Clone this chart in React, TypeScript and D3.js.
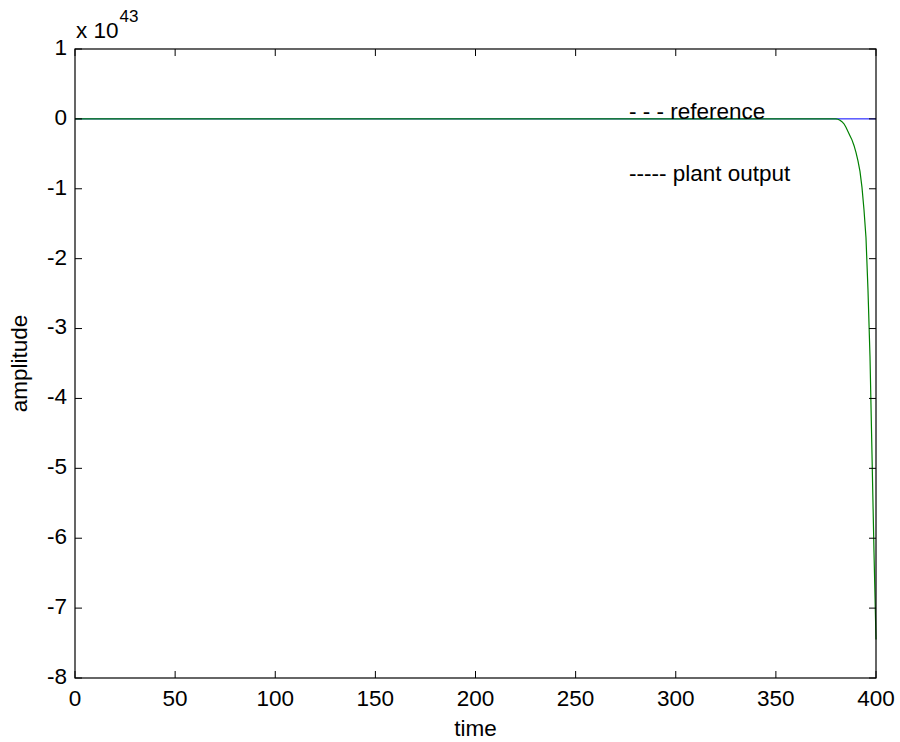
import React, { useEffect, useRef } from 'react';
import * as d3 from 'd3';

// time samples and values (units of 1e43)
const refTime = [0, 400];
const refValues = [0, 0];

const plantTime = [0, 380, 381, 382, 383, 384, 385, 386, 387, 388, 389, 390, 391, 392, 393, 394, 395, 396, 397, 398, 399, 400];
const plantValues = [0, 0, -0.005, -0.02, -0.04, -0.07, -0.12, -0.18, -0.24, -0.3, -0.38, -0.48, -0.6, -0.75, -0.98, -1.3, -1.7, -2.45, -3.4, -4.8, -6.2, -7.45];

const xTicks = [0, 50, 100, 150, 200, 250, 300, 350, 400];
const yTicks = [1, 0, -1, -2, -3, -4, -5, -6, -7, -8];
const legendLabels = ['- - - reference', '----- plant output'];

const App = () => {
    const svgRef = useRef<SVGSVGElement>(null);

    const width = 900;
    const height = 742;
    const margin = { top: 49, right: 24, bottom: 64, left: 75 };
    const innerWidth = width - margin.left - margin.right;
    const innerHeight = height - margin.top - margin.bottom;
    const font = 'Arial, "Liberation Sans", Helvetica, sans-serif';
    const fs = '22.5px';

    useEffect(() => {
        const svg = d3.select(svgRef.current);
        svg.selectAll('*').remove();
        const g = svg.append('g').attr('transform', `translate(${margin.left}, ${margin.top})`);

        const xScale = d3.scaleLinear().domain([0, 400]).range([0, innerWidth]);
        const yScale = d3.scaleLinear().domain([-8, 1]).range([innerHeight, 0]);
        const tickLen = 7;

        // lines: reference (blue) then plant output (green)
        const line = d3.line<[number, number]>()
            .x(d => xScale(d[0]))
            .y(d => yScale(d[1]));

        g.append('path')
            .datum(refTime.map((t, i) => [t, refValues[i]] as [number, number]))
            .attr('fill', 'none')
            .attr('stroke', '#0000ff')
            .attr('stroke-width', 1)
            .attr('d', line);

        g.append('path')
            .datum(plantTime.map((t, i) => [t, plantValues[i]] as [number, number]))
            .attr('fill', 'none')
            .attr('stroke', '#008000')
            .attr('stroke-width', 1.2)
            .attr('d', line);

        // box
        g.append('rect')
            .attr('x', 0).attr('y', 0)
            .attr('width', innerWidth).attr('height', innerHeight)
            .attr('fill', 'none')
            .attr('stroke', '#000')
            .attr('stroke-width', 1.2);

        // ticks (inside, all four sides)
        xTicks.forEach(t => {
            const x = xScale(t);
            g.append('line').attr('x1', x).attr('x2', x).attr('y1', innerHeight).attr('y2', innerHeight - tickLen).attr('stroke', '#000');
            g.append('line').attr('x1', x).attr('x2', x).attr('y1', 0).attr('y2', tickLen).attr('stroke', '#000');
            g.append('text')
                .attr('x', x)
                .attr('y', innerHeight + 22)
                .attr('text-anchor', 'middle')
                .attr('dominant-baseline', 'middle')
                .style('font-family', font)
                .style('font-size', fs)
                .text(t);
        });

        yTicks.forEach(t => {
            const y = yScale(t);
            g.append('line').attr('x1', 0).attr('x2', tickLen).attr('y1', y).attr('y2', y).attr('stroke', '#000');
            g.append('line').attr('x1', innerWidth).attr('x2', innerWidth - tickLen).attr('y1', y).attr('y2', y).attr('stroke', '#000');
            g.append('text')
                .attr('x', -8)
                .attr('y', y)
                .attr('text-anchor', 'end')
                .attr('dominant-baseline', 'middle')
                .style('font-family', font)
                .style('font-size', fs)
                .text(t);
        });

        // exponent label
        const expo = g.append('text')
            .attr('x', 1)
            .attr('y', -11)
            .style('font-family', font)
            .style('font-size', fs);
        expo.append('tspan').text('x 10');
        expo.append('tspan').attr('dx', 1).attr('dy', -16).style('font-size', '17px').text('43');

        // axis labels
        g.append('text')
            .attr('x', innerWidth / 2)
            .attr('y', innerHeight + 52)
            .attr('text-anchor', 'middle')
            .attr('dominant-baseline', 'middle')
            .style('font-family', font)
            .style('font-size', fs)
            .text('time');

        g.append('text')
            .attr('transform', `translate(${-54}, ${innerHeight / 2}) rotate(-90)`)
            .attr('text-anchor', 'middle')
            .attr('dominant-baseline', 'middle')
            .style('font-family', font)
            .style('font-size', fs)
            .text('amplitude');

        // legend (text only)
        legendLabels.forEach((label, i) => {
            g.append('text')
                .attr('x', 554)
                .attr('y', 64 + i * 62)
                .attr('dominant-baseline', 'middle')
                .style('font-family', font)
                .style('font-size', fs)
                .text(label);
        });
    }, []);

    return (
        <svg
            ref={svgRef}
            width={width}
            height={height}
            style={{ position: 'absolute', left: 0, top: 0, background: '#fff' }}
        />
    );
};

export default App;
